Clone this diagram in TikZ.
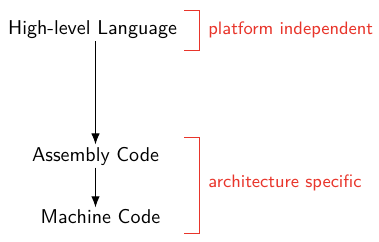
\documentclass[tikz,border=0pt]{standalone}
\usepackage{tikz}
\usetikzlibrary{arrows.meta,positioning,calc}
\definecolor{nred}{HTML}{E8352B}
\tikzset{
  lvl/.style={font=\sffamily, inner sep=1pt},
  arr/.style={-{Latex[length=5.5pt,width=4.2pt]}, line width=0.5pt},
  brk/.style={draw=nred, line width=0.45pt},
  note/.style={font=\sffamily\small\color{nred}, anchor=west, inner sep=0pt},
}
\begin{document}
\begin{tikzpicture}[x=0.5pt, y=-0.5pt]
  \useasboundingbox (0,0) rectangle (379,241);
  % levels
  \node[lvl] (hll) at (92.5,30) {High-level Language};
  \node[lvl] (asm) at (95.5,156) {Assembly Code};
  \node[lvl] (mc)  at (100.5,217) {Machine Code};
  \draw[arr] (asm.north |- hll.south) -- (asm.north);
  \draw[arr] (asm.south) -- (mc.north -| asm);
  % brackets
  \draw[brk] (184,10) -- (199,10) -- (199,50) -- (184,50);
  \draw[brk] (184,137) -- (199,137) -- (199,233) -- (184,233);
  \node[note] (pind) at (208,30) {platform independent};
  \node[note] (arch) at (208,183) {architecture specific};
\end{tikzpicture}
\end{document}
